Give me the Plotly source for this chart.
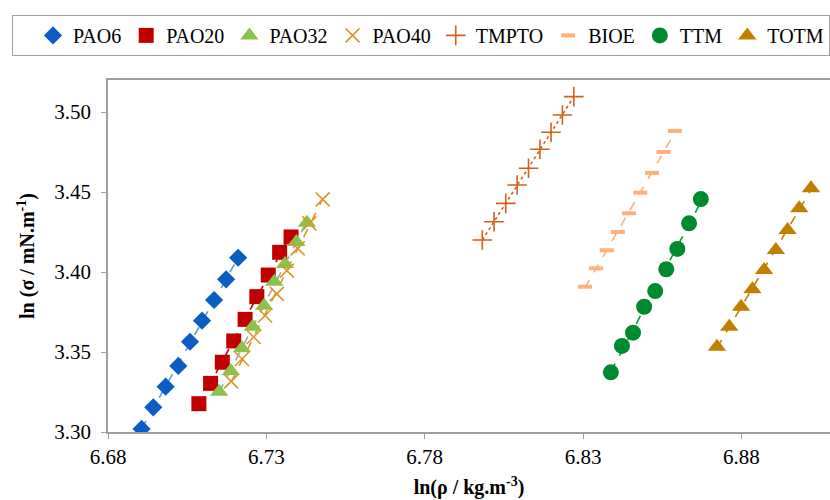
import numpy as np
import plotly.graph_objects as go

series_names = ["PAO6", "PAO20", "PAO32", "PAO40", "TMPTO", "BIOE", "TTM", "TOTM"]

pao6_x = [6.6906, 6.6943, 6.6982, 6.7022, 6.7059, 6.7097, 6.7135, 6.7173, 6.7211]
pao6_y = [3.3019, 3.3154, 3.3283, 3.3413, 3.3564, 3.3696, 3.3825, 3.3954, 3.4089]

pao20_x = [6.7087, 6.7124, 6.7161, 6.7197, 6.7233, 6.7270, 6.7306, 6.7342, 6.7378]
pao20_y = [3.3177, 3.3304, 3.3436, 3.3569, 3.3704, 3.3846, 3.3981, 3.4123, 3.4219]

pao32_x = [6.7151, 6.7188, 6.7223, 6.7257, 6.7293, 6.7325, 6.7359, 6.7395, 6.7428]
pao32_y = [3.3252, 3.3381, 3.3523, 3.3658, 3.3789, 3.3939, 3.4050, 3.4188, 3.4308]

pao40_x = [6.7189, 6.7223, 6.7260, 6.7296, 6.7333, 6.7365, 6.7399, 6.7436, 6.7478]
pao40_y = [3.3316, 3.3456, 3.3594, 3.3728, 3.3863, 3.4009, 3.4148, 3.4304, 3.4454]

tmpto_x = [6.7982, 6.8019, 6.8056, 6.8092, 6.8128, 6.8164, 6.8199, 6.8235, 6.8271]
tmpto_y = [3.4200, 3.4314, 3.4429, 3.4544, 3.4648, 3.4767, 3.4873, 3.4981, 3.5096]

bioe_x = [6.8306, 6.8341, 6.8375, 6.8410, 6.8445, 6.8481, 6.8518, 6.8554, 6.8590]
bioe_y = [3.3908, 3.4023, 3.4136, 3.4250, 3.4367, 3.4496, 3.4619, 3.4750, 3.4881]

ttm_x = [6.8388, 6.8423, 6.8458, 6.8493, 6.8528, 6.8563, 6.8598, 6.8635, 6.8672]
ttm_y = [3.3373, 3.3538, 3.3621, 3.3783, 3.3881, 3.4017, 3.4144, 3.4304, 3.4456]

totm_x = [6.8723, 6.8762, 6.8799, 6.8835, 6.8872, 6.8909, 6.8946, 6.8983, 6.9020]
totm_y = [3.3533, 3.3658, 3.3783, 3.3892, 3.4013, 3.4138, 3.4263, 3.4398, 3.4523]

x_tick_vals = [6.68, 6.73, 6.78, 6.83, 6.88]
x_tick_text = ["6.68", "6.73", "6.78", "6.83", "6.88"]
y_tick_vals = [3.30, 3.35, 3.40, 3.45, 3.50]
y_tick_text = ["3.30", "3.35", "3.40", "3.45", "3.50"]

data = [
    (pao6_x, pao6_y), (pao20_x, pao20_y), (pao32_x, pao32_y), (pao40_x, pao40_y),
    (tmpto_x, tmpto_y), (bioe_x, bioe_y), (ttm_x, ttm_y), (totm_x, totm_y),
]

styles = [
    dict(symbol="diamond", size=14, color="#0A5DC2", line=dict(width=0), lc="#5B9BD5", dash="dash"),
    dict(symbol="square", size=15, color="#C00000", line=dict(width=0), lc="#C00000", dash="dash"),
    dict(symbol="triangle-up", size=16, color="#8BC34A", line=dict(width=0), lc="#A6A6A6", dash="dash"),
    dict(symbol="x-thin", size=14, color="#D9962B", line=dict(width=1.6, color="#D9962B"), lc="#D9962B", dash="dash"),
    dict(symbol="cross-thin", size=14, color="#D2601A", line=dict(width=1.6, color="#D2601A"), lc="#D2601A", dash="dot"),
    dict(symbol="line-ew", size=10, color="#FFB07C", line=dict(width=4, color="#FFB07C"), lc="#FFB07C", dash="dash"),
    dict(symbol="circle", size=16, color="#008A2E", line=dict(width=0), lc="#00A040", dash="dash"),
    dict(symbol="triangle-up", size=16, color="#C07F00", line=dict(width=0), lc="#C07F00", dash="dash"),
]

fig = go.Figure()

# trend lines (least-squares fit of each series)
for (xs, ys), st in zip(data, styles):
    xa = np.array(xs)
    ya = np.array(ys)
    k, b = np.polyfit(xa, ya, 1)
    xl = np.array([xa.min(), xa.max()])
    fig.add_trace(go.Scatter(
        x=xl, y=k * xl + b, mode="lines", showlegend=False, hoverinfo="skip",
        line=dict(color=st["lc"], width=1.6, dash=st["dash"]),
    ))

for name, (xs, ys), st in zip(series_names, data, styles):
    fig.add_trace(go.Scatter(
        x=xs, y=ys, mode="markers", name=name,
        marker=dict(symbol=st["symbol"], size=st["size"], color=st["color"], line=st["line"]),
    ))

font_family = "Liberation Serif, Times New Roman, serif"

fig.update_layout(
    width=830, height=500, autosize=False,
    margin=dict(l=108, r=0, t=80, b=68),
    plot_bgcolor="white", paper_bgcolor="white",
    font=dict(family=font_family, size=21, color="black"),
    showlegend=True,
    legend=dict(
        orientation="h", x=-0.1247, y=1.185, xanchor="left", yanchor="top",
        bordercolor="#A0A0A0", borderwidth=1, bgcolor="white",
        font=dict(family=font_family, size=20, color="black"),
        itemwidth=30, tracegroupgap=0,
        title=dict(text="&nbsp;&nbsp;", side="left", font=dict(family=font_family, size=20)),
    ),
    xaxis=dict(
        range=[6.68, 6.908], tickmode="array", tickvals=x_tick_vals, ticktext=x_tick_text,
        showgrid=False, zeroline=False, showline=True, linecolor="#A0A0A0", linewidth=1.5,
        mirror=True, ticks="outside", ticklen=5, tickcolor="#A0A0A0",
        tickfont=dict(family=font_family, size=21, color="black"),
        title=dict(text="<b>ln(ρ / kg.m<sup>-3</sup>)</b>", font=dict(family=font_family, size=20), standoff=12),
    ),
    yaxis=dict(
        range=[3.30, 3.52], tickmode="array", tickvals=y_tick_vals, ticktext=y_tick_text,
        showgrid=False, zeroline=False, showline=True, linecolor="#A0A0A0", linewidth=1.5,
        ticks="outside", ticklen=5, tickcolor="#A0A0A0", ticklabelstandoff=6,
        tickfont=dict(family=font_family, size=21, color="black"),
        title=dict(text="<b>ln (σ / mN.m<sup>-1</sup>)</b>", font=dict(family=font_family, size=20), standoff=14),
    ),
)

fig.write_html("out.html")
